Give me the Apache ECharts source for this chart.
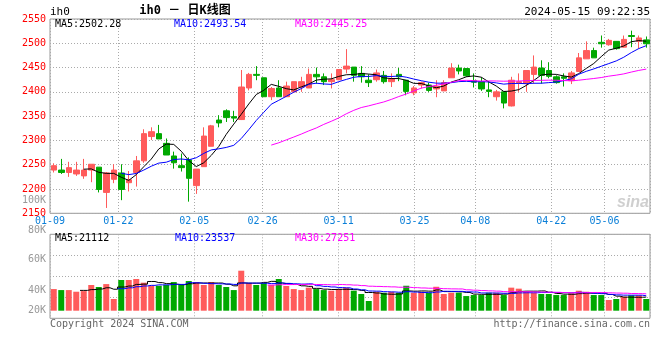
<!DOCTYPE html>
<html><head><meta charset="utf-8">
<script src="https://cdn.jsdelivr.net/npm/echarts@6/dist/echarts.min.js"></script>
<style>html,body{margin:0;padding:0;background:#fff}#c{width:660px;height:360px}</style>
</head><body><div id="c"></div>
<script>
// ---- data ----
const dates = ['01-09','01-10','01-11','01-12','01-15','01-16','01-17','01-18','01-19','01-22','01-23','01-24','01-25','01-26','01-29','01-30','01-31',
'02-01','02-02','02-05','02-06','02-07','02-08','02-19','02-20','02-21','02-22','02-23','02-26','02-27','02-28','02-29',
'03-01','03-04','03-05','03-06','03-07','03-08','03-11','03-12','03-13','03-14','03-15','03-18','03-19','03-20','03-21','03-22','03-25','03-26','03-27','03-28','03-29',
'04-01','04-02','04-03','04-08','04-09','04-10','04-11','04-12','04-15','04-16','04-17','04-18','04-19','04-22','04-23','04-24','04-25','04-26','04-29','04-30',
'05-06','05-07','05-08','05-09','05-10','05-13','05-14'];
const opens  = [2239,2239,2234,2231,2227,2239,2245,2193,2220,2233,2213,2234,2258,2308,2314,2294,2268,2248,2260,2207,2246,2288,2342,2361,2349,2343,2408,2436,2429,2390,2408,2390,2400,2410,2408,2436,2431,2421,2425,2447,2451,2438,2424,2425,2434,2421,2436,2424,2398,2414,2414,2406,2402,2429,2449,2448,2423,2421,2404,2390,2400,2371,2419,2417,2436,2449,2444,2431,2431,2423,2442,2468,2485,2502,2497,2504,2492,2516,2504,2507];
const closes = [2248,2234,2244,2239,2239,2251,2199,2233,2239,2199,2219,2258,2314,2318,2303,2270,2254,2244,2222,2241,2309,2330,2336,2347,2346,2410,2436,2434,2390,2407,2390,2412,2421,2421,2436,2431,2421,2425,2446,2453,2434,2431,2419,2439,2421,2427,2431,2401,2408,2419,2403,2411,2419,2449,2443,2433,2420,2406,2401,2400,2377,2424,2421,2444,2451,2434,2432,2419,2428,2439,2470,2485,2470,2499,2506,2489,2508,2514,2511,2499];
const lows   = [2234,2231,2225,2227,2221,2214,2193,2161,2212,2177,2195,2205,2254,2301,2303,2270,2242,2236,2174,2190,2246,2288,2327,2338,2338,2342,2403,2424,2390,2383,2390,2390,2398,2400,2408,2417,2414,2407,2424,2438,2421,2419,2410,2421,2417,2410,2422,2393,2393,2407,2400,2389,2402,2429,2436,2431,2409,2402,2389,2382,2366,2370,2400,2400,2417,2417,2428,2417,2411,2416,2442,2468,2470,2491,2495,2487,2491,2492,2489,2491];
const highs  = [2253,2262,2256,2256,2262,2251,2245,2235,2251,2251,2237,2268,2323,2327,2332,2304,2277,2273,2265,2241,2327,2332,2352,2364,2361,2445,2439,2453,2429,2410,2424,2421,2421,2431,2448,2450,2438,2438,2446,2488,2451,2453,2436,2446,2443,2438,2449,2424,2412,2421,2419,2424,2424,2459,2456,2448,2438,2430,2422,2404,2400,2431,2438,2444,2475,2465,2461,2434,2438,2443,2480,2504,2491,2516,2509,2504,2516,2526,2516,2514];
const volumes = [37000,36200,36200,34900,35400,40200,38600,40900,29200,44100,44100,44900,42000,39600,39600,40200,42500,40200,43300,42500,40200,42500,40200,38600,36200,51400,41700,40200,41700,40200,44900,39400,37000,36200,38100,37000,36200,35700,37000,38100,35700,33100,27600,34900,34100,34900,34100,39600,34100,34900,34100,38800,33100,34100,34100,31500,32300,32300,34100,34100,32300,38100,37300,34900,34100,33100,33100,32300,32300,33700,35700,34900,32300,32300,28400,29200,31000,32100,32100,29200];
const dateLabels = ['01-09','01-22','02-05','02-26','03-11','03-25','04-08','04-22','05-06'];
const volLabels = {20000:'20K',40000:'40K',60000:'60K',80000:'80K'};

// ---- derived ----
function ma(arr,n){return arr.map((v,i)=>i<n-1?'-':+(arr.slice(i-n+1,i+1).reduce((a,b)=>a+b,0)/n).toFixed(2));}
const kData = opens.map((o,i)=>[o,closes[i],lows[i],highs[i]]);
const RED='#ff5b5b', GREEN='#00a800';
const gridDates = dates.slice(0, dates.length-1);
const markIdx = dateLabels.map(d=>gridDates.indexOf(d));
const showMark = (i)=>markIdx.indexOf(i)>=0;
const FONT='DejaVu Sans Mono';
const dotted = {color:'#aaaaaa', type:[1,2], width:1};

const chart = echarts.init(document.getElementById('c'), null, {renderer:'canvas'});
function txt(x,y,s,color,opt){return {type:'text',x:x,y:y,z:100,style:Object.assign({text:s,fill:color,font:'10px '+FONT,textAlign:'left',textVerticalAlign:'middle'},opt||{})};}
chart.setOption({
  animation:false,
  backgroundColor:'#fff',
  grid:[
    {left:50,top:19,width:600,height:194.3,show:true,borderColor:'#999',borderWidth:1,backgroundColor:'transparent'},
    {left:50,top:234.3,width:600,height:76.4,show:false},
    {left:50,top:234.3,width:600,height:84,show:true,borderColor:'#999',borderWidth:1,backgroundColor:'transparent'}
  ],
  xAxis:[
    {type:'category',gridIndex:0,data:dates,boundaryGap:true,axisLine:{show:false},axisTick:{show:false},axisLabel:{show:false},splitLine:{show:false}},
    {type:'category',gridIndex:0,data:gridDates,boundaryGap:true,position:'bottom',axisLine:{show:false},axisTick:{show:false},
      axisLabel:{interval:(i)=>showMark(i),color:'#0a7fd8',fontFamily:FONT,fontSize:10,margin:3,padding:[0,7.6,0,0],hideOverlap:false,showMinLabel:true},
      splitLine:{show:true,interval:(i)=>showMark(i),lineStyle:dotted}},
    {type:'category',gridIndex:1,data:dates,boundaryGap:true,axisLine:{show:false},axisTick:{show:false},axisLabel:{show:false},splitLine:{show:false}},
    {type:'category',gridIndex:2,data:gridDates,boundaryGap:true,axisLine:{show:false},axisTick:{show:false},axisLabel:{show:false},
      splitLine:{show:true,interval:(i)=>showMark(i),lineStyle:dotted}}
  ],
  yAxis:[
    {type:'value',gridIndex:0,min:2150,max:2550,interval:50,axisLine:{show:false},axisTick:{show:false},
      axisLabel:{color:'#ff0000',fontFamily:FONT,fontSize:10,margin:4,formatter:(v)=>String(v)},splitLine:{show:true,lineStyle:dotted}},
    {type:'value',gridIndex:1,min:20000,max:80000,interval:20000,axisLine:{show:false},axisTick:{show:false},splitLine:{show:false},
      axisLabel:{margin:4,formatter:(v)=>{const s=volLabels[v]||'';return v===80000?'{u|'+s+'}':(v===40000?'{d|'+s+'}':'{n|'+s+'}');},
        rich:{u:{color:'#999',fontFamily:FONT,fontSize:10,padding:[0,0,8,0]},d:{color:'#999',fontFamily:FONT,fontSize:10,padding:[10,0,0,0]},n:{color:'#999',fontFamily:FONT,fontSize:10}}}},
    {type:'value',gridIndex:2,min:0,max:4,interval:1,inverse:true,axisLine:{show:false},axisTick:{show:false},axisLabel:{show:false},splitLine:{show:true,lineStyle:dotted}}
  ],
  series:[
    {type:'candlestick',xAxisIndex:0,yAxisIndex:0,data:kData,barWidth:6,z:5,
      itemStyle:{color:RED,color0:GREEN,borderColor:RED,borderColor0:GREEN,borderWidth:1}},
    {type:'line',xAxisIndex:0,yAxisIndex:0,data:ma(closes,5),symbol:'none',lineStyle:{color:'#000',width:1},z:6},
    {type:'line',xAxisIndex:0,yAxisIndex:0,data:ma(closes,10),symbol:'none',lineStyle:{color:'#0000ff',width:1},z:6},
    {type:'line',xAxisIndex:0,yAxisIndex:0,data:ma(closes,30),symbol:'none',lineStyle:{color:'#ff00ff',width:1},z:6},
    {type:'bar',xAxisIndex:2,yAxisIndex:1,data:volumes,barWidth:6,z:5,
      itemStyle:{color:(p)=>closes[p.dataIndex]>=opens[p.dataIndex]?RED:GREEN}},
    {type:'line',xAxisIndex:2,yAxisIndex:1,data:ma(volumes,5),symbol:'none',step:'middle',lineStyle:{color:'#000',width:1},z:6},
    {type:'line',xAxisIndex:2,yAxisIndex:1,data:ma(volumes,10),symbol:'none',step:'middle',lineStyle:{color:'#0000ff',width:1},z:6},
    {type:'line',xAxisIndex:2,yAxisIndex:1,data:ma(volumes,30),symbol:'none',step:'middle',lineStyle:{color:'#ff00ff',width:1},z:6}
  ],
  graphic:[
    txt(50,12,'ih0','#000',{font:'11px '+FONT}),
    txt(185,11,'ih0 － 日K线图','#000',{font:'bold 12px '+FONT+', Noto Sans CJK SC',textAlign:'center'}),
    txt(650,12,'2024-05-15 09:22:35','#000',{font:'11px '+FONT,textAlign:'right'}),
    txt(55,24,'MA5:2502.28','#000'),
    txt(174,24,'MA10:2493.54','#0000ff'),
    txt(295,24,'MA30:2445.25','#ff00ff'),
    txt(46,200,'100K','#999',{textAlign:'right'}),
    txt(55,238,'MA5:21112','#000'),
    txt(175,238,'MA10:23537','#0000ff'),
    txt(295,238,'MA30:27251','#ff00ff'),
    txt(50,324,'Copyright 2024 SINA.COM','#666'),
    txt(650,324,'http://finance.sina.com.cn','#666',{textAlign:'right'}),
    txt(633,203,'sina','#cfcfcf',{font:'italic bold 16px Liberation Sans',textAlign:'center'})
  ]
});
</script></body></html>
